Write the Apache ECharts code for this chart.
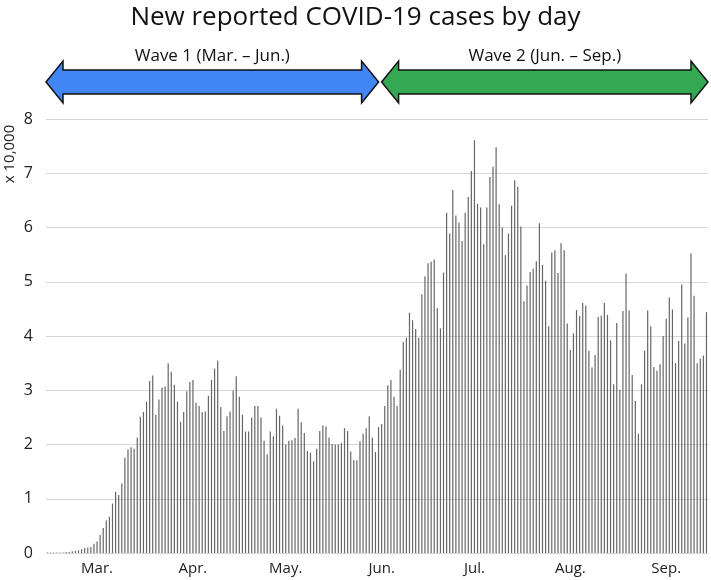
<!DOCTYPE html>
<html>
<head>
<meta charset="utf-8">
<script src="https://cdn.jsdelivr.net/npm/echarts@6/dist/echarts.min.js"></script>
<style>
html,body{margin:0;padding:0;background:#fff;}
#chart{width:711px;height:580px;}
</style>
</head>
<body>
<div id="chart"></div>
<script>
// Daily new reported cases, in units of 10,000 (first bar = 2020-02-14)
var startDate = '2020-02-14';
var febVals = [0.01,0.01,0.01,0.01,0.01,0.01,0.02,0.02,0.03,0.04,0.05,0.07,0.09,0.10,0.11,0.17];
var marVals = [0.21,0.33,0.46,0.60,0.67,0.91,1.13,1.07,1.28,1.76,1.91,1.95,1.92,2.13,2.51,2.60,2.79,3.17,3.27,2.55,2.83,3.05,3.07,3.50,3.34,3.10,2.79,2.42,2.60,2.98,3.15];
var aprVals = [3.19,2.77,2.71,2.60,2.61,2.90,3.19,3.40,3.55,2.69,2.25,2.52,2.61,2.99,3.26,2.88,2.55,2.24,2.24,2.50,2.71,2.71,2.50,2.07,1.82,2.24,2.15,2.66,2.53,2.35];
var mayVals = [2.00,2.07,2.08,2.12,2.66,2.41,2.21,1.88,1.85,1.69,1.92,2.25,2.35,2.33,2.13,2.01,2.00,2.00,2.03,2.30,2.25,1.87,1.71,1.71,2.06,2.20,2.30,2.52,2.13,1.86,2.32];
var junVals = [2.38,2.71,3.09,3.19,2.88,2.71,3.38,3.89,3.97,4.43,4.29,4.13,3.97,4.77,5.10,5.34,5.37,5.41,4.51,4.14,5.17,6.27,5.89,6.69,6.22,6.09,5.75,6.27,6.56,7.04];
var julVals = [7.61,6.44,6.37,5.69,6.37,6.93,7.12,7.48,6.43,6.00,5.49,5.89,6.40,6.87,6.75,6.02,4.64,4.93,5.18,5.24,5.38,6.08,5.31,5.02,4.18,5.54,5.58,5.16,5.71,5.58,4.23];
var augVals = [3.74,4.05,4.48,4.37,4.61,4.56,3.73,3.42,3.65,4.35,4.38,4.61,4.39,3.92,3.11,4.24,3.01,4.46,5.15,4.47,3.28,2.80,2.20,3.11,3.73,4.47,4.18,3.43,3.36,3.48,4.00];
var sepVals = [4.32,4.71,4.49,3.50,3.91,4.95,3.86,4.34,5.52,4.74,3.50,3.58,3.64,4.44];

var monthLabels = {'03':'Mar.','04':'Apr.','05':'May.','06':'Jun.','07':'Jul.','08':'Aug.','09':'Sep.'};
var yTicks = [0,1,2,3,4,5,6,7,8];
var titleText = 'New reported COVID-19 cases by day';
var yUnitText = 'x 10,000';
var waves = [
  {label:'Wave 1 (Mar. \u2013 Jun.)', from:null, to:'2020-06-01', color:'#4285F4'},
  {label:'Wave 2 (Jun. \u2013 Sep.)', from:'2020-06-01', to:null, color:'#34A853'}
];

var values = [].concat(febVals, marVals, aprVals, mayVals, junVals, julVals, augVals, sepVals);
var categories = [];
(function(){
  var d = new Date(startDate + 'T00:00:00Z');
  for (var i = 0; i < values.length; i++) {
    var y = d.getUTCFullYear(), m = ('0' + (d.getUTCMonth() + 1)).slice(-2), dd = ('0' + d.getUTCDate()).slice(-2);
    categories.push(y + '-' + m + '-' + dd);
    d.setUTCDate(d.getUTCDate() + 1);
  }
})();

var FONT = '"Open Sans", Roboto, sans-serif';
var GRID = {left: 46, right: 3, top: 119, bottom: 27};
var chart = echarts.init(document.getElementById('chart'), null, {renderer: 'canvas'});

chart.setOption({
  animation: false,
  backgroundColor: '#fff',
  textStyle: {fontFamily: FONT},
  title: {
    text: titleText, left: 'center', top: 0,
    textStyle: {fontFamily: FONT, fontSize: 26, fontWeight: 'normal', color: '#111'}
  },
  grid: GRID,
  xAxis: {
    type: 'category',
    data: categories,
    boundaryGap: true,
    axisLine: {show: false},
    axisTick: {show: false},
    splitLine: {show: false},
    axisLabel: {
      interval: function (idx, val) { return /-01$/.test(val) && monthLabels[val.slice(5,7)] !== undefined; },
      formatter: function (val) { return monthLabels[val.slice(5,7)] || ''; },
      fontFamily: FONT, fontSize: 15, color: '#222', margin: 8
    }
  },
  yAxis: {
    type: 'value', min: yTicks[0], max: yTicks[yTicks.length-1], interval: 1,
    axisLine: {show: false}, axisTick: {show: false},
    splitLine: {lineStyle: {color: '#d6d6d6', width: 1}},
    axisLabel: {fontFamily: FONT, fontSize: 16, color: '#222', margin: 13}
  },
  series: [{
    type: 'bar',
    data: values,
    barWidth: 1.2,
    itemStyle: {color: '#666'},
    silent: true
  }]
});

function arrowPoints(L, R, cy, headLen, headHalf, shaftHalf) {
  return [
    [L, cy], [L + headLen, cy - headHalf], [L + headLen, cy - shaftHalf],
    [R - headLen, cy - shaftHalf], [R - headLen, cy - headHalf], [R, cy],
    [R - headLen, cy + headHalf], [R - headLen, cy + shaftHalf],
    [L + headLen, cy + shaftHalf], [L + headLen, cy + headHalf]
  ];
}

var W = chart.getWidth();
var gridL = GRID.left, gridR = W - GRID.right;
var band = (gridR - gridL) / categories.length;
function splitX(cat) { return chart.convertToPixel({xAxisIndex: 0}, cat) - band / 2; }

var cy = 82, gap = 1.5;
var graphics = [];
waves.forEach(function (w) {
  var L = w.from ? splitX(w.from) + gap : gridL;
  var R = w.to ? splitX(w.to) - gap : gridR;
  graphics.push({
    type: 'polygon',
    shape: {points: arrowPoints(L, R, cy, 17, 21, 12)},
    style: {fill: w.color, stroke: '#111', lineWidth: 1.5, lineJoin: 'miter'}
  });
  graphics.push({
    type: 'text',
    x: (L + R) / 2, y: 56,
    style: {text: w.label, fill: '#111', font: '17px ' + FONT, textAlign: 'center', textVerticalAlign: 'middle'}
  });
});
graphics.push({
  type: 'text', x: 10, y: 154, rotation: Math.PI / 2,
  style: {text: yUnitText, fill: '#222', font: '15px ' + FONT, textAlign: 'center', textVerticalAlign: 'middle'}
});
chart.setOption({graphic: graphics});
</script>
</body>
</html>
